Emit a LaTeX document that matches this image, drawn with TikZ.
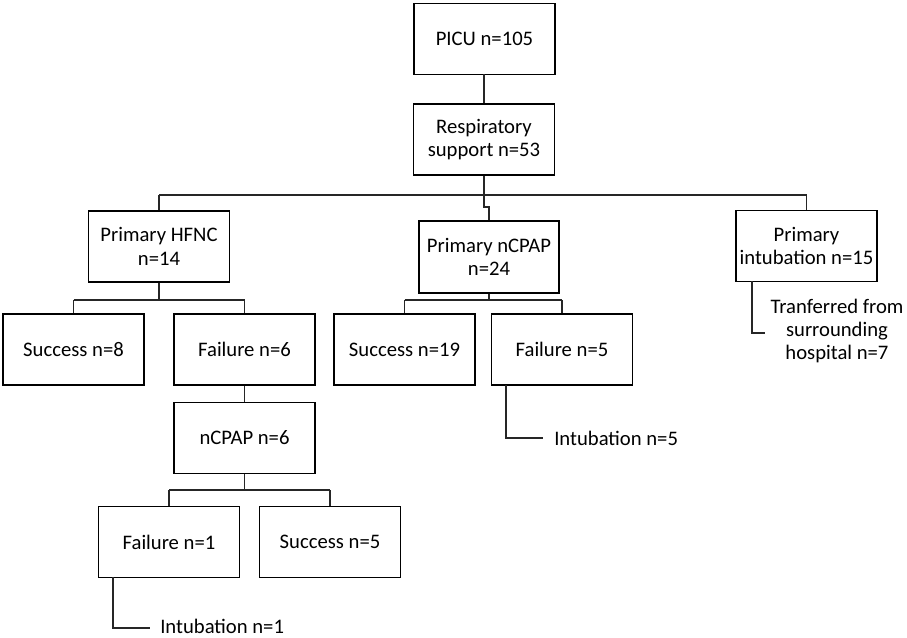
\documentclass[tikz,border=0pt]{standalone}
\usepackage{fontspec}
\setmainfont{Carlito}
\begin{document}
\begin{tikzpicture}[x=0.75pt,y=-0.75pt,
  every node/.style={font=\fontsize{15.5}{17.5}\selectfont, inner sep=0pt},
  box/.style={draw, line width=1.1pt, minimum width=106pt, minimum height=53pt, align=center},
  conn/.style={line width=1.1pt, draw=black!85},
  lbl/.style={align=center}]
\useasboundingbox (0,0) rectangle (907,637);
\node[box] (picu) at (484.5,39) {PICU n=105};
\node[box] (resp) at (484,139.5) {Respiratory\\support n=53};
\node[box] (hfnc) at (159,246.5) {Primary HFNC\\n=14};
\node[box, minimum width=105pt, minimum height=54pt] (ncpap) at (489,257) {Primary nCPAP\\n=24};
\node[box] (intub) at (806.5,246) {Primary\\intubation n=15};
\node[box] (s8) at (73.5,349.5) {Success n=8};
\node[box] (f6) at (244.5,349.5) {Failure n=6};
\node[box] (s19) at (404.5,349.5) {Success n=19};
\node[box] (f5) at (562,349.5) {Failure n=5};
\node[box] (ncpap6) at (244.5,438) {nCPAP n=6};
\node[box] (f1) at (169,542) {Failure n=1};
\node[box] (s5) at (330,542) {Success n=5};
\node[anchor=west] (i1) at (160,626) {Intubation n=1};
\node[anchor=west] (i5) at (554,438) {Intubation n=5};
\node[lbl] (tr) at (837,331) {Tranferred from\\surrounding\\hospital n=7};

% top
\draw[conn] (picu.south) -- (resp.south |- picu.south) -- (resp.north);
\coordinate (j1) at (484,195);
\coordinate (jl) at (159,195);
\coordinate (jr) at (806.5,195);
\draw[conn] (resp.south) -- (j1);
\draw[conn] (jl) -- (jr);
\draw[conn] (jl) -- (hfnc.north);
\draw[conn] (jr) -- (intub.north);
\draw[conn] (j1) -- (484,207) -- (489,207) -- (ncpap.north);
% HFNC
\coordinate (h1) at (159,300);
\draw[conn] (hfnc.south) -- (h1);
\draw[conn] (s8.north |- h1) -- (f6.north |- h1);
\draw[conn] (s8.north |- h1) -- (s8.north);
\draw[conn] (f6.north |- h1) -- (f6.north);
% nCPAP
\coordinate (c1) at (489,300);
\draw[conn] (ncpap.south) -- (c1);
\draw[conn] (s19.north |- c1) -- (f5.north |- c1);
\draw[conn] (s19.north |- c1) -- (s19.north);
\draw[conn] (f5.north |- c1) -- (f5.north);
% failure 6
\draw[conn] (f6.south) -- (ncpap6.north);
\coordinate (n1) at (244.5,490);
\draw[conn] (ncpap6.south) -- (n1);
\draw[conn] (f1.north |- n1) -- (s5.north |- n1);
\draw[conn] (f1.north |- n1) -- (f1.north);
\draw[conn] (s5.north |- n1) -- (s5.north);
% intubation legs
\draw[conn] (113,577) -- (113,628) -- (150,628);
\draw[conn] (506,385) -- (506,438) -- (543,438);
\draw[conn] (752,281) -- (752,333) -- (765,333);
\end{tikzpicture}
\end{document}
